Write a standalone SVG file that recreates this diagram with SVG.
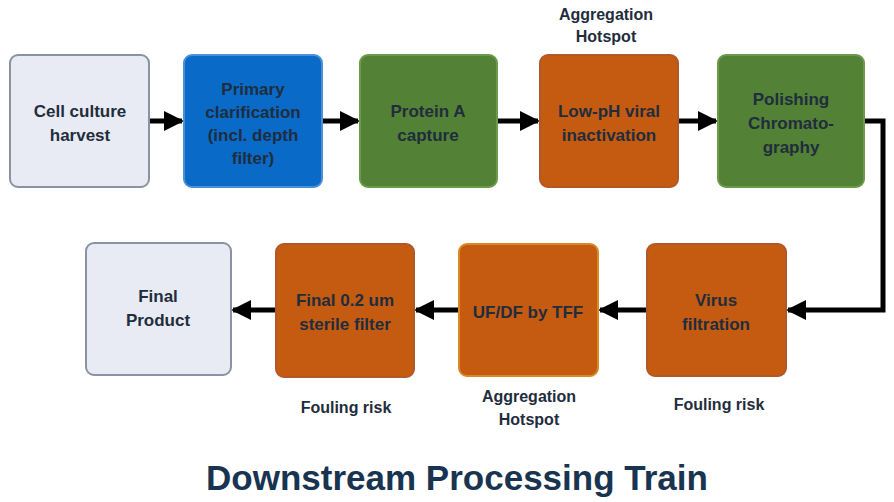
<svg xmlns="http://www.w3.org/2000/svg" width="894" height="502" viewBox="0 0 894 502">
<style>
text{font-family:"Liberation Sans",Arial,sans-serif;font-weight:bold;fill:#1f2d3d;text-anchor:middle}
.n{font-size:17px}
.l{font-size:16px}
.grey{fill:#e8ebf3;stroke:#8a93a3;stroke-width:2}
.blue{fill:#0a6ac8;stroke:#4d90d8;stroke-width:2}
.green{fill:#538135;stroke:#6a9a4a;stroke-width:2}
.orange{fill:#c55a11;stroke:#b0582a;stroke-width:2}
.conn{fill:none;stroke:#000;stroke-width:5}
</style>
<defs><marker id="a" markerWidth="4" markerHeight="4" refX="3.6" refY="2" orient="auto" markerUnits="strokeWidth"><path d="M0,0L4,2L0,4z" fill="#000"/></marker></defs>
<rect width="894" height="502" fill="#fff"/>
<g id="connectors">
<path class="conn" d="M149,121H182" marker-end="url(#a)"/>
<path class="conn" d="M322,121H358" marker-end="url(#a)"/>
<path class="conn" d="M497,121H538" marker-end="url(#a)"/>
<path class="conn" d="M678,121H716" marker-end="url(#a)"/>
<path class="conn" d="M864,121H883V310H788" marker-end="url(#a)"/>
<path class="conn" d="M647,310H600" marker-end="url(#a)"/>
<path class="conn" d="M459,310H416" marker-end="url(#a)"/>
<path class="conn" d="M276,310H233" marker-end="url(#a)"/>
</g>
<g id="n1"><rect class="grey" x="10" y="55" width="139" height="132" rx="8"/><text class="n" x="80" y="117">Cell culture</text><text class="n" x="80" y="141">harvest</text></g>
<g id="n2"><rect class="blue" x="184" y="55" width="138" height="132" rx="8"/><text class="n" x="253" y="95">Primary</text><text class="n" x="253" y="118">clarification</text><text class="n" x="253" y="141">(incl. depth</text><text class="n" x="253" y="164">filter)</text></g>
<g id="n3"><rect class="green" x="360" y="55" width="137" height="132" rx="8"/><text class="n" x="428" y="117">Protein A</text><text class="n" x="428" y="141">capture</text></g>
<g id="n4"><rect class="orange" x="540" y="55" width="138" height="132" rx="8"/><text class="n" x="609" y="117">Low-pH viral</text><text class="n" x="609" y="141">inactivation</text></g>
<g id="n5"><rect class="green" x="718" y="55" width="146" height="132" rx="8"/><text class="n" x="791" y="105">Polishing</text><text class="n" x="791" y="129">Chromato-</text><text class="n" x="791" y="153">graphy</text></g>
<g id="n6"><rect class="orange" x="647" y="244" width="139" height="132" rx="8"/><text class="n" x="716" y="306">Virus</text><text class="n" x="716" y="330">filtration</text></g>
<g id="n7"><rect class="orange" x="459" y="244" width="139" height="132" rx="8" style="stroke:#d88a2a"/><text class="n" x="528" y="318">UF/DF by TFF</text></g>
<g id="n8"><rect class="orange" x="276" y="244" width="138" height="133" rx="8"/><text class="n" x="345" y="306">Final 0.2 um</text><text class="n" x="345" y="330">sterile filter</text></g>
<g id="n9"><rect class="grey" x="86" y="243" width="145" height="132" rx="8"/><text class="n" x="158" y="302">Final</text><text class="n" x="158" y="326">Product</text></g>
<g id="labels">
<text class="l" x="606" y="20">Aggregation</text><text class="l" x="606" y="42">Hotspot</text>
<text class="l" x="529" y="402">Aggregation</text><text class="l" x="529" y="425">Hotspot</text>
<text class="l" x="346" y="413">Fouling risk</text>
<text class="l" x="719" y="410">Fouling risk</text>
<text x="457" y="490" style="font-size:35px;fill:#183450">Downstream Processing Train</text>
</g>
</svg>
